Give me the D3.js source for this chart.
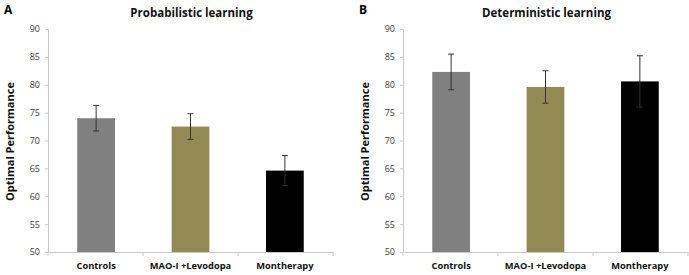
<!DOCTYPE html>
<html>
<head>
<meta charset="utf-8">
<script src="https://cdn.jsdelivr.net/npm/d3@7"></script>
<style>
  body { margin: 0; background: #fff; }
  svg { display: block; font-family: "Open Sans", "DejaVu Sans", sans-serif; }
</style>
</head>
<body>
<script>
var W = 689, H = 275;

var groups = ["Controls", "MAO-I +Levodopa", "Montherapy"];
var colors = ["#808080", "#948a54", "#000000"];
var yTicks = [50, 55, 60, 65, 70, 75, 80, 85, 90];

var probMean = [74.0, 72.5, 64.6];
var probErr = [2.3, 2.3, 2.7];
var detMean = [82.3, 79.6, 80.6];
var detErr = [3.2, 2.9, 4.6];

var svg = d3.select("body").append("svg")
    .attr("width", W)
    .attr("height", H);

function panel(ox, letter, title, means, errs) {
    var left = 48, right = 333, top = 29, bottom = 252;

    var g = svg.append("g").attr("transform", "translate(" + ox + ",0)");

    var x = d3.scaleBand()
        .domain(groups)
        .range([left, right])
        .paddingInner(0.6)
        .paddingOuter(0.31);

    var y = d3.scaleLinear()
        .domain([50, 90])
        .range([bottom, top]);

    // letter + title
    g.append("text")
        .attr("x", 4).attr("y", 14)
        .attr("font-size", 12).attr("font-weight", "bold")
        .text(letter);
    g.append("text")
        .attr("x", (left + right) / 2 + 1).attr("y", 17)
        .attr("text-anchor", "middle")
        .attr("font-size", 11.5).attr("font-weight", "bold")
        .attr("fill", "#111")
        .text(title);

    // y axis
    var yAxis = d3.axisLeft(y).tickValues(yTicks).tickSize(3).tickPadding(5);
    var ya = g.append("g")
        .attr("transform", "translate(" + left + ",0)")
        .call(yAxis);
    ya.select(".domain").attr("stroke", "#c8c8c8");
    ya.selectAll(".tick line").attr("stroke", "#c8c8c8");
    ya.selectAll(".tick text")
        .attr("font-size", 9).attr("fill", "#404040")
        .attr("font-family", "Open Sans, sans-serif");

    // x axis
    var xAxis = d3.axisBottom(x).tickSize(0).tickPadding(10);
    var xa = g.append("g")
        .attr("transform", "translate(0," + bottom + ")")
        .call(xAxis);
    xa.select(".domain").attr("stroke", "#c8c8c8");
    xa.selectAll(".tick text")
        .attr("font-size", 9.3).attr("font-weight", "bold")
        .attr("fill", "#111")
        .attr("font-family", "Open Sans, sans-serif");

    // category divider ticks
    var bounds = [left, left + (right - left) / 3, left + 2 * (right - left) / 3, right];
    g.selectAll(".divtick")
        .data(bounds)
        .enter().append("line")
        .attr("x1", function (d) { return d; })
        .attr("x2", function (d) { return d; })
        .attr("y1", bottom)
        .attr("y2", bottom + 4)
        .attr("stroke", "#c8c8c8");

    // y label
    g.append("text")
        .attr("transform", "translate(14," + ((top + bottom) / 2 + 1) + ") rotate(-90)")
        .attr("text-anchor", "middle")
        .attr("font-size", 11).attr("font-weight", "bold")
        .attr("fill", "#111")
        .text("Optimal Performance");

    // bars
    g.selectAll(".bar")
        .data(means)
        .enter().append("rect")
        .attr("x", function (d, i) { return x(groups[i]); })
        .attr("y", function (d) { return y(d); })
        .attr("width", x.bandwidth())
        .attr("height", function (d) { return bottom - y(d); })
        .attr("fill", function (d, i) { return colors[i]; });

    // error bars
    var eb = g.selectAll(".err")
        .data(means)
        .enter().append("g")
        .attr("stroke", "#333")
        .attr("stroke-width", 1);
    eb.append("line")
        .attr("x1", function (d, i) { return x(groups[i]) + x.bandwidth() / 2; })
        .attr("x2", function (d, i) { return x(groups[i]) + x.bandwidth() / 2; })
        .attr("y1", function (d, i) { return y(d + errs[i]); })
        .attr("y2", function (d, i) { return y(d - errs[i]); });
    [1, -1].forEach(function (s) {
        eb.append("line")
            .attr("x1", function (d, i) { return x(groups[i]) + x.bandwidth() / 2 - 3; })
            .attr("x2", function (d, i) { return x(groups[i]) + x.bandwidth() / 2 + 3; })
            .attr("y1", function (d, i) { return y(d + s * errs[i]); })
            .attr("y2", function (d, i) { return y(d + s * errs[i]); });
    });
}

panel(0, "A", "Probabilistic learning", probMean, probErr);
panel(355, "B", "Deterministic learning", detMean, detErr);
</script>
</body>
</html>
